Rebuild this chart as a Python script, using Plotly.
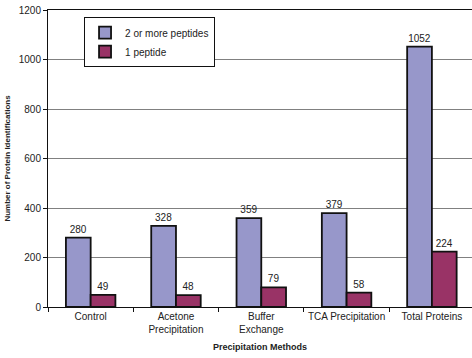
import plotly.graph_objects as go

# Protein identifications per precipitation method
methods = ["Control", "Acetone<br>Precipitation", "Buffer<br>Exchange", "TCA Precipitation", "Total Proteins"]
multi_peptide = [280, 328, 359, 379, 1052]
single_peptide = [49, 48, 79, 58, 224]

series_names = ["2 or more peptides", "1 peptide"]
series_colors = ["#9797CA", "#993366"]

FONT = "Liberation Sans, Arial, sans-serif"

fig = go.Figure()
for name, vals, col in zip(series_names, [multi_peptide, single_peptide], series_colors):
    fig.add_trace(go.Bar(
        x=methods, y=vals, name=name,
        marker=dict(color=col, line=dict(color="#111111", width=1.8)),
        text=[str(v) for v in vals], textposition="outside",
        textfont=dict(family=FONT, size=10, color="#222222"),
        cliponaxis=False,
    ))

fig.update_layout(
    width=472, height=358,
    margin=dict(l=48, r=0, t=10, b=51, autoexpand=False),
    paper_bgcolor="white", plot_bgcolor="white",
    barmode="group", bargap=0.42, bargroupgap=0,
    font=dict(family=FONT, size=10, color="#222222"),
    legend=dict(
        x=0.085, y=0.976, xanchor="left", yanchor="top",
        bgcolor="white", bordercolor="#111111", borderwidth=1,
        font=dict(family=FONT, size=10, color="#222222"),
        itemwidth=30, tracegroupgap=0,
    ),
    showlegend=True,
)

fig.update_xaxes(
    range=[-0.5, 4.47], tickangle=0, automargin=False,
    showline=True, linecolor="#111111", linewidth=1, mirror=True,
    ticks="outside", tickson="boundaries", ticklen=4, tickcolor="#111111",
    tickfont=dict(family=FONT, size=10, color="#222222"),
    title=dict(text="<b>Precipitation Methods</b>", font=dict(family=FONT, size=9, color="#222222"), standoff=9),
    showgrid=False,
)
fig.update_yaxes(
    range=[0, 1200], dtick=200, automargin=False,
    showline=True, linecolor="#111111", linewidth=1,
    ticks="outside", ticklen=4, tickcolor="#111111",
    tickfont=dict(family=FONT, size=10, color="#222222"),
    showgrid=True, gridcolor="#808080", gridwidth=1,
    zeroline=False,
    title=dict(text="<b>Number of Protein Identifications</b>", font=dict(family=FONT, size=8, color="#222222"), standoff=6),
)

fig.write_html("out.html")
